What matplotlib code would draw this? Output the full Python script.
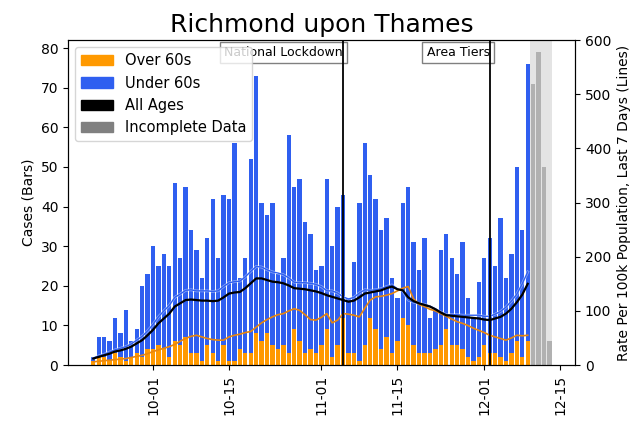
import numpy as np
import pandas as pd
import matplotlib
matplotlib.use('Agg')
import matplotlib.pyplot as plt
import matplotlib.dates as mdates
import matplotlib.patches as mpatches
import matplotlib.patheffects as pe

# daily cases, stacked bars
dates = pd.date_range('2020-09-20', '2020-12-09')
over60 = [1, 2, 2, 1, 3, 2, 1, 2, 3, 2, 4,
          4, 5, 4, 2, 6, 5, 7, 3, 3, 1, 5, 3, 1, 5, 1, 1, 4, 3, 3, 8,
          6, 8, 5, 4, 5, 3, 9, 6, 3, 4, 3,
          5, 9, 2, 5, 12, 3, 3, 1, 5, 12, 9, 4, 7, 3, 6, 12, 10, 5, 3, 3,
          3, 4, 5, 9, 5, 5, 4, 2, 1, 2,
          5, 3, 3, 2, 1, 3, 6, 2, 6]
under60 = [1, 5, 5, 5, 9, 6, 13, 4, 6, 18, 19,
           26, 20, 24, 23, 40, 22, 38, 31, 26, 21, 27, 39, 26, 38, 41, 55, 18, 24, 49, 65,
           35, 30, 36, 19, 22, 55, 36, 41, 33, 29, 21,
           20, 38, 28, 35, 31, 14, 23, 40, 51, 36, 33, 30, 30, 19, 11, 29, 35, 26, 21, 29,
           9, 10, 24, 24, 22, 18, 27, 15, 11, 19,
           22, 29, 22, 35, 21, 25, 44, 32, 70]

# rate per 100k, last 7 days
rate_all = [12, 15, 18, 21, 25, 27, 30, 34, 40, 46, 55,
            65, 77, 86, 95, 108, 114, 120, 121, 120, 119, 119, 118, 119, 125, 132, 134, 135, 142, 151, 160,
            160, 157, 154, 153, 151, 147, 142, 141, 140, 138, 136,
            133, 129, 126, 123, 120, 117, 119, 125, 132, 134, 136, 138, 142, 145, 140, 138, 125, 118, 114, 111,
            108, 103, 97, 92, 91, 90, 89, 88, 87, 86,
            84, 83, 86, 89, 95, 104, 116, 130, 150]
rate_over60 = [6, 7, 8, 9, 10, 11, 12, 14, 16, 18, 21,
               25, 28, 31, 34, 38, 44, 49, 53, 55, 52, 49, 47, 46, 46, 52, 55, 57, 60, 62, 70,
               78, 84, 89, 93, 95, 100, 104, 101, 93, 84, 83,
               88, 95, 78, 83, 95, 94, 92, 89, 105, 120, 126, 127, 129, 132, 137, 142, 145, 122, 112, 108,
               103, 100, 95, 90, 85, 80, 77, 73, 68, 64,
               60, 55, 52, 49, 46, 50, 55, 54, 55]
rate_under60 = [13, 17, 20, 24, 28, 31, 34, 39, 46, 53, 63,
                75, 89, 100, 110, 125, 131, 138, 139, 137, 137, 137, 136, 137, 145, 152, 154, 155, 163, 173, 182,
                181, 176, 172, 170, 167, 161, 153, 152, 152, 151, 149,
                145, 137, 137, 133, 126, 122, 125, 133, 139, 138, 139, 141, 145, 148, 141, 137, 120, 116, 114, 112,
                109, 104, 98, 93, 93, 93, 92, 92, 92, 92,
                90, 90, 94, 99, 107, 118, 131, 150, 172]

incomplete_dates = pd.date_range('2020-12-10', '2020-12-13')
incomplete_cases = [71, 79, 50, 6]

events = ['National Lockdown', 'Area Tiers']
event_dates = pd.to_datetime(['2020-11-05', '2020-12-02'])

col_over = '#ff9900'
col_under = '#2f5ff0'

fig = plt.figure(figsize=(6.3, 4.23), dpi=100)
ax = fig.add_axes([0.108, 0.137, 0.805, 0.768])

ax.bar(dates, over60, width=0.8, color=col_over)
ax.bar(dates, under60, width=0.8, bottom=over60, color=col_under)
ax.bar(incomplete_dates, incomplete_cases, width=0.8, color='gray')
ax.axvspan(incomplete_dates[0] - pd.Timedelta(hours=12),
           incomplete_dates[-1] + pd.Timedelta(hours=12),
           color='lightgray', alpha=0.6, lw=0)
ax.set_ylim(0, 82)
ax.set_ylabel('Cases (Bars)')

for name, d in zip(events, event_dates):
    ax.text(d, 78.8, name, ha='right', va='center', fontsize=9,
            bbox=dict(facecolor='white', edgecolor='gray', pad=3))

ax2 = ax.twinx()
ax2.plot(dates, rate_under60, color=col_under, lw=1.0,
         path_effects=[pe.Stroke(linewidth=2.0, foreground='white', alpha=0.45), pe.Normal()])
ax2.plot(dates, rate_over60, color='#e8860e', lw=1.2)
ax2.plot(dates, rate_all, color='black', lw=1.6)
for d in event_dates:
    ax2.axvline(d, color='black', lw=1.3)
ax2.set_ylim(0, 600)
ax2.set_ylabel('Rate Per 100k Population, Last 7 Days (Lines)')

ax.xaxis.set_major_locator(mdates.DayLocator(bymonthday=[1, 15]))
ax.xaxis.set_major_formatter(mdates.DateFormatter('%m-%d'))
ax.tick_params(axis='x', labelrotation=90)

handles = [mpatches.Patch(color=col_over, label='Over 60s'),
           mpatches.Patch(color=col_under, label='Under 60s'),
           mpatches.Patch(color='black', label='All Ages'),
           mpatches.Patch(color='gray', label='Incomplete Data')]
ax2.legend(handles=handles, loc='upper left', fontsize=10.5, handlelength=2.2)

ax.set_title('Richmond upon Thames', fontsize=18)

fig.savefig('out.png', dpi=100)
